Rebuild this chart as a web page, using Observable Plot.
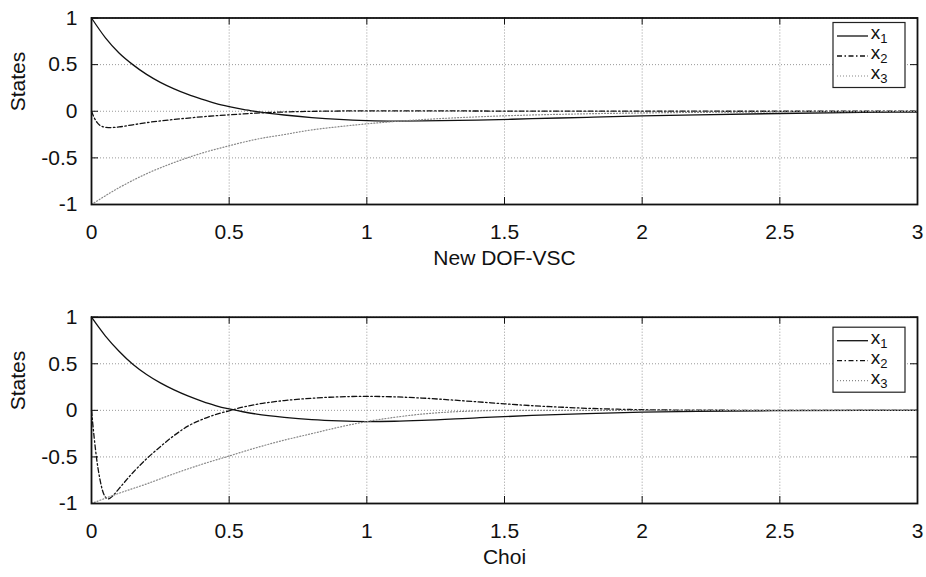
<!DOCTYPE html>
<html><head><meta charset="utf-8">
<script src="https://cdn.jsdelivr.net/npm/d3@7"></script>
<script src="https://cdn.jsdelivr.net/npm/@observablehq/plot@0.6"></script>
<style>body{margin:0;background:#fff;} #chart{width:926px;} #chart svg{display:block;}</style>
</head><body><div id="chart"></div>
<script>
// ---- data ----
const xTicks = [0, 0.5, 1, 1.5, 2, 2.5, 3];
const yTicks = [-1, -0.5, 0, 0.5, 1];
const legendBase = ["x", "x", "x"];
const legendSub = ["1", "2", "3"];
const panelTitles = ["New DOF-VSC", "Choi"];
const yLabel = "States";

const tA = [0,0.05,0.1,0.15,0.2,0.25,0.3,0.35,0.4,0.45,0.5,0.55,0.6,0.7,0.8,0.9,1.0,1.1,1.2,1.4,1.6,1.8,2.0,2.2,2.5,2.8,3.0];
const topX1 = [1,0.79,0.625,0.5,0.395,0.31,0.24,0.18,0.13,0.085,0.05,0.02,-0.003,-0.04,-0.068,-0.088,-0.1,-0.105,-0.104,-0.095,-0.08,-0.065,-0.05,-0.038,-0.024,-0.013,-0.008];
const tB = [0,0.01,0.02,0.03,0.04,0.05,0.07,0.1,0.15,0.2,0.3,0.4,0.5,0.6,0.7,0.8,1.0,1.2,1.5,2.0,2.5,3.0];
const topX2 = [0,-0.07,-0.12,-0.15,-0.165,-0.172,-0.175,-0.168,-0.145,-0.122,-0.088,-0.06,-0.038,-0.02,-0.008,-0.001,0.004,0.004,0.002,0.001,0,0];
const tC = [0,0.1,0.2,0.3,0.4,0.5,0.6,0.7,0.8,0.9,1.0,1.2,1.4,1.6,1.8,2.0,2.5,3.0];
const topX3 = [-1,-0.82,-0.67,-0.55,-0.45,-0.37,-0.3,-0.25,-0.2,-0.165,-0.135,-0.09,-0.06,-0.04,-0.027,-0.018,-0.007,-0.002];

const botX1 = [1,0.8,0.635,0.495,0.385,0.295,0.22,0.155,0.1,0.052,0.015,-0.015,-0.04,-0.075,-0.1,-0.114,-0.12,-0.117,-0.108,-0.08,-0.055,-0.035,-0.02,-0.01,-0.003,0,0];
const tD = [0,0.01,0.02,0.03,0.04,0.05,0.06,0.08,0.1,0.15,0.2,0.25,0.3,0.35,0.4,0.45,0.5,0.55,0.6,0.7,0.8,0.9,1.0,1.1,1.2,1.3,1.4,1.5,1.6,1.7,1.8,1.9,2.0,2.2,2.5,3.0];
const botX2 = [0,-0.3,-0.55,-0.73,-0.86,-0.93,-0.95,-0.91,-0.84,-0.67,-0.52,-0.39,-0.27,-0.17,-0.1,-0.045,-0.005,0.035,0.065,0.105,0.13,0.145,0.15,0.145,0.132,0.113,0.092,0.07,0.05,0.035,0.022,0.013,0.007,0.002,0,0];
const tE = [0,0.1,0.2,0.3,0.4,0.5,0.6,0.7,0.8,0.9,1.0,1.1,1.2,1.3,1.4,1.5,1.7,2.0,3.0];
const botX3 = [-1,-0.89,-0.79,-0.68,-0.58,-0.49,-0.4,-0.32,-0.25,-0.18,-0.12,-0.075,-0.04,-0.018,-0.006,0,0,0,0];

// ---- styles ----
const lineStyles = [
  {stroke: "#111", strokeWidth: 1.3, dash: null},
  {stroke: "#111", strokeWidth: 1.3, dash: "5,2.5,1.5,2.5"},
  {stroke: "#888", strokeWidth: 1.2, dash: "1,2"}
];
const FONT = "'Liberation Sans', Arial, Helvetica, sans-serif";

const rows = (ts, vs) => ts.map((t, i) => ({t, v: vs[i]}));

function legendMark(offsetTop) {
  return (index, scales, values, dims) => {
    const right = dims.width - dims.marginRight;
    const x0 = right - 84, y0 = dims.marginTop + offsetTop;
    const g = d3.create("svg:g");
    g.append("rect").attr("x", x0).attr("y", y0).attr("width", 72).attr("height", 65)
      .attr("fill", "white").attr("stroke", "#222").attr("stroke-width", 1.2);
    lineStyles.forEach((s, i) => {
      const y = y0 + 13.5 + i * 20;
      const ln = g.append("line").attr("x1", x0 + 4).attr("x2", x0 + 35).attr("y1", y).attr("y2", y)
        .attr("stroke", s.stroke).attr("stroke-width", s.strokeWidth);
      if (s.dash) ln.attr("stroke-dasharray", s.dash);
      const tx = g.append("text").attr("x", x0 + 46).attr("y", y + 3)
        .style("font-size", "19px").attr("fill", "#111").attr("font-family", FONT);
      tx.append("tspan").text(legendBase[i]);
      tx.append("tspan").style("font-size", "13px").attr("dy", 4).text(legendSub[i]);
    });
    return g.node();
  };
}

function panel(series, title, height, marginTop, marginBottom, legendOffset) {
  const H = height - marginTop - marginBottom;
  const marginLeft = 91, marginRight = 9;
  const W = 926 - marginLeft - marginRight;
  return Plot.plot({
    width: 926, height, marginTop, marginBottom, marginLeft, marginRight,
    style: {fontFamily: FONT, fontSize: "21px", color: "#111", background: "white"},
    x: {domain: [0, 3]},
    y: {domain: [-1, 1]},
    marks: [
      Plot.gridX(xTicks, {stroke: "#999", strokeOpacity: 1, strokeDasharray: "1,2"}),
      Plot.gridY(yTicks, {stroke: "#999", strokeOpacity: 1, strokeDasharray: "1,2"}),
      Plot.tickX(xTicks, {x: d => d, insetBottom: H - 7, stroke: "#111"}),
      Plot.tickX(xTicks, {x: d => d, insetTop: H - 7, stroke: "#111"}),
      Plot.tickY(yTicks, {y: d => d, insetRight: W - 7, stroke: "#111"}),
      Plot.tickY(yTicks, {y: d => d, insetLeft: W - 7, stroke: "#111"}),
      ...series.map((s, i) => Plot.line(s, {
        x: "t", y: "v", curve: "monotone-x",
        stroke: lineStyles[i].stroke, strokeWidth: lineStyles[i].strokeWidth,
        strokeDasharray: lineStyles[i].dash
      })),
      Plot.frame({stroke: "#111", strokeWidth: 1.8}),
      Plot.axisX(xTicks, {tickSize: 0, tickPadding: 20, tickFormat: d => String(d), label: null}),
      Plot.axisY(yTicks, {tickSize: 0, tickPadding: 14, tickFormat: d => String(d), label: null}),
      Plot.text([title], {text: d => d, frameAnchor: "bottom", dy: 60, fill: "#111"}),
      Plot.text([yLabel], {text: d => d, frameAnchor: "left", dx: -73, rotate: -90, fill: "#111"}),
      legendMark(legendOffset)
    ]
  });
}

const chart = document.getElementById("chart");
chart.append(panel([rows(tA, topX1), rows(tB, topX2), rows(tC, topX3)], panelTitles[0], 299, 17.5, 95, 5));
chart.append(panel([rows(tA, botX1), rows(tD, botX2), rows(tE, botX3)], panelTitles[1], 278, 17.7, 74, 10.5));
</script>
</body></html>
